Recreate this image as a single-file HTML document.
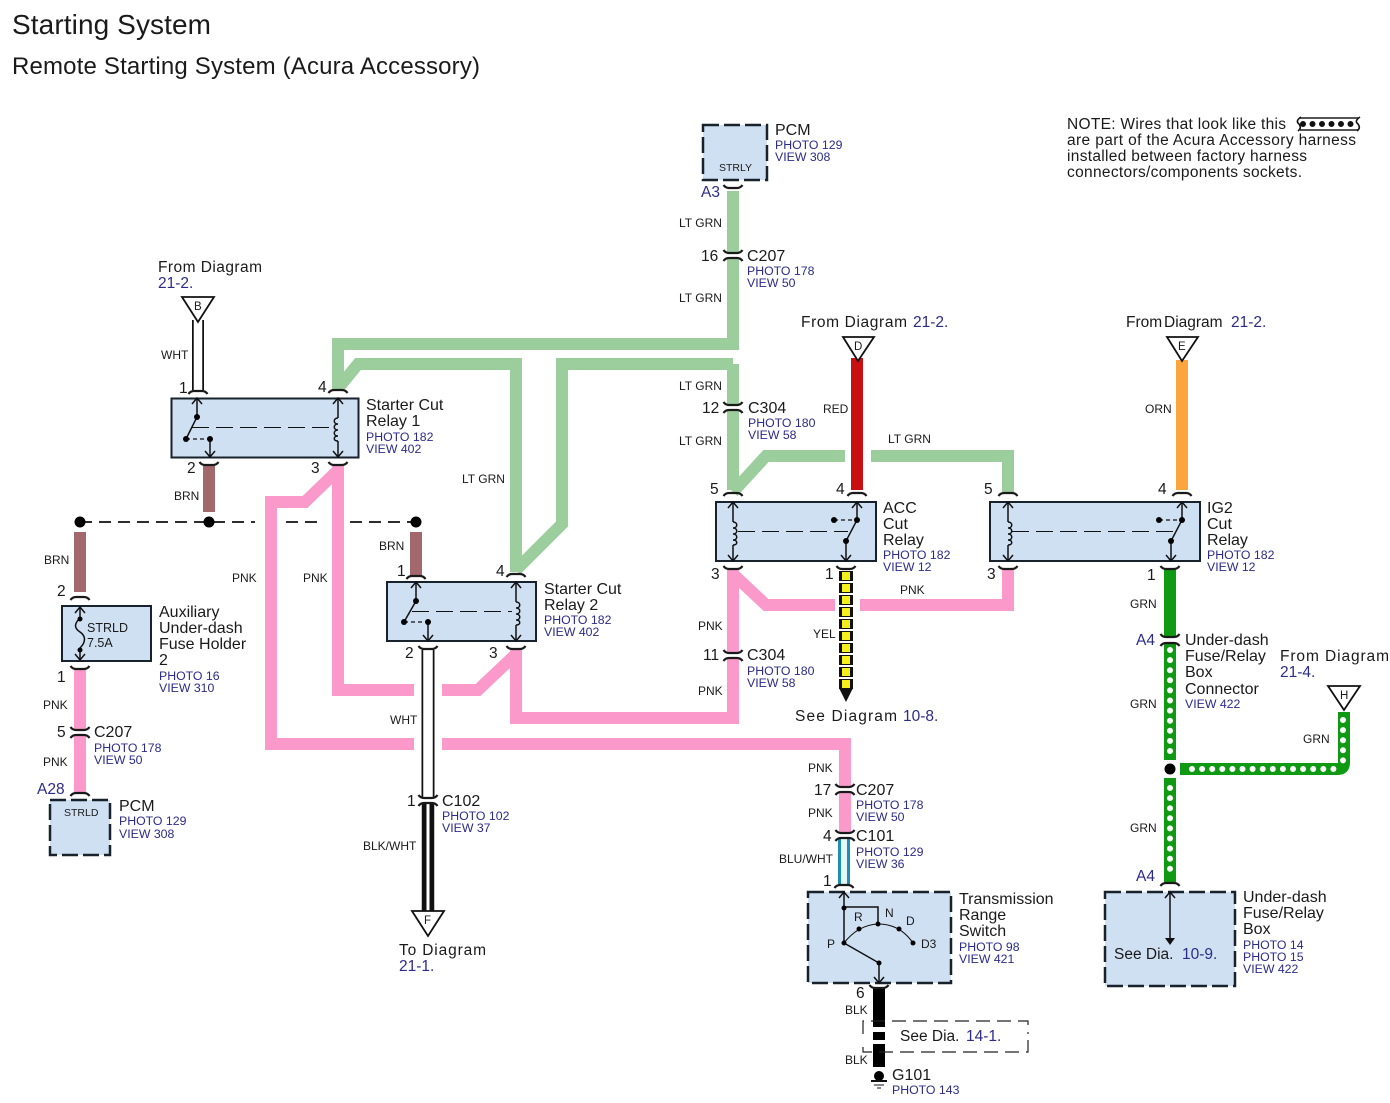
<!DOCTYPE html>
<html><head><meta charset="utf-8"><style>
html,body{margin:0;padding:0;background:#fff}
svg{display:block}
text{font-family:"Liberation Sans",sans-serif;fill:#1a1a1a}
.l{font-size:16px}.n{font-size:15.5px}
.b{font-size:12.3px;fill:#2b2b8c}
.a{font-size:15.5px;fill:#2b2b8c}
.w{font-size:12px}
.box{fill:#cfe0f2;stroke:#18222c;stroke-width:2}
.dash{fill:#cfe0f2;stroke:#18222c;stroke-width:2.5;stroke-dasharray:16 5}
.i{fill:none;stroke:#111;stroke-width:1.5}
.t{fill:none;stroke:#111;stroke-width:1.1;stroke-dasharray:17 7}
.sd{fill:none;stroke:#111;stroke-width:1.3;stroke-dasharray:4 3}
.wg{fill:none;stroke:#9ccd9c;stroke-width:12}
.wp{fill:none;stroke:#fb9aca;stroke-width:12}
.c{fill:none;stroke:#1a1a1a;stroke-width:2.2}
</style></head><body>
<svg width="1390" height="1103" viewBox="0 0 1390 1103" xmlns="http://www.w3.org/2000/svg">
<defs>
<path id="ct" class="c" d="M-9.500 3Q-7.500 0-4 0H4Q7.500 0 9.500 3"/>
<path id="cb" class="c" d="M-9.500-3Q-7.500 0-4 0H4Q7.500 0 9.500-3"/>
<path id="up" class="i" d="M-5 6L0 0L5 6"/>
<path id="dn" class="i" d="M-5-6L0 0L5-6"/>
<path id="coil" class="i" d="M0 20C5 20 5 26 0 26C5 26 5 32 0 32C5 32 5 38 0 38C5 38 5 43 0 43"/>
<path id="coilL" class="i" d="M0 20C-5 20-5 26 0 26C-5 26-5 32 0 32C-5 32-5 38 0 38C-5 38-5 43 0 43"/>
</defs>
<rect width="1390" height="1103" fill="#fff"/>

<text x="12" y="34" style="font-size:28px" textLength="199">Starting System</text>
<text x="12" y="74" style="font-size:24px" textLength="468">Remote Starting System (Acura Accessory)</text>

<!-- LT GRN wires -->
<path class="wg" d="M733 191V253M733 258V344H338V390"/>
<path class="wg" d="M340 386L358 364H516V572"/>
<path class="wg" d="M733 364H562V524L516 570"/>
<path class="wg" d="M733 364V405M733 410V490"/>
<path class="wg" d="M733 492L766 456H845M871 456H1008V492"/>
<!-- Red, orange -->
<path d="M857 358V490" stroke="#c80f12" stroke-width="12" fill="none"/>
<path d="M1182 360V490" stroke="#fba53f" stroke-width="12" fill="none"/>
<!-- Brown -->
<path d="M209 466V512M80 532V592M416 532V576" stroke="#a3686c" stroke-width="12" fill="none"/>
<!-- Pink -->
<path class="wp" d="M338 466V690H414M442 690H478L516 654"/>
<path class="wp" d="M516 650V718H733V658M733 653V570"/>
<path class="wp" d="M733 574L766 605H835M860 605H1008V570"/>
<path class="wp" d="M338 470L305 502H271V744H414M442 744H845V787M845 792V833"/>
<path class="wp" d="M80 670V730M80 735V792"/>
<!-- White wires -->
<path d="M198 320V390" stroke="#111" stroke-width="12" fill="none"/><path d="M198 318V392" stroke="#fff" stroke-width="8.5" fill="none"/>
<path d="M428 650V798" stroke="#111" stroke-width="13" fill="none"/><path d="M428 648V800" stroke="#fff" stroke-width="9.5" fill="none"/>
<path d="M428 803V912" stroke="#111" stroke-width="12.5" fill="none"/><path d="M428 803V912" stroke="#fff" stroke-width="3" fill="none"/>
<!-- Blue/white -->
<path d="M844 838V884" stroke="#1f8fb0" stroke-width="12" fill="none"/><path d="M844 838V884" stroke="#e6f8fa" stroke-width="6" fill="none"/>
<!-- Yellow -->
<path d="M846 571V691" stroke="#111" stroke-width="14" stroke-dasharray="10 2" fill="none"/>
<path d="M846 572V691" stroke="#f5ef1e" stroke-width="8" stroke-dasharray="8 4" fill="none"/>
<path d="M839 688H853L846 702Z" fill="#111"/>
<!-- Black -->
<path d="M879 988V1027M879 1032V1040M879 1044V1067" stroke="#000" stroke-width="12" fill="none"/>
<!-- Green wires -->
<path d="M1170 570V637M1170 643V760M1170 778V882M1180 769H1338Q1344 769 1344 763V712" stroke="#109a14" stroke-width="12" fill="none"/>
<path d="M1170 650V754M1170 788V870M1192 769H1335M1343 720V765" stroke="#fff" stroke-width="6" stroke-linecap="round" stroke-dasharray="0 10.1" fill="none"/>
<circle cx="1170" cy="769" r="5.500" fill="#000"/>

<!-- Bus -->
<path d="M80 522H255M286 522H322M350 522H416" stroke="#111" stroke-width="1.8" stroke-dasharray="12 7" fill="none"/>
<circle cx="80" cy="522" r="5.500" fill="#000"/><circle cx="209" cy="522" r="5.500" fill="#000"/><circle cx="416" cy="522" r="5.500" fill="#000"/>

<!-- Boxes -->
<rect class="box" x="171.500" y="398.500" width="187" height="59"/>
<rect class="box" x="387" y="582" width="149" height="59"/>
<rect class="box" x="716" y="502" width="160" height="59"/>
<rect class="box" x="990" y="502" width="210" height="59"/>
<rect class="box" x="62" y="606" width="89" height="55"/>
<rect class="dash" x="703" y="125" width="64" height="55"/>
<rect class="dash" x="50" y="800" width="60" height="55"/>
<rect class="dash" x="808" y="892" width="143" height="91"/>
<rect class="dash" x="1105" y="892" width="130" height="94"/>

<!-- Triangles -->
<g fill="#fff" stroke="#111" stroke-width="1.8">
<path d="M182 297H214L198 322Z"/><path d="M843 337H874L858 361Z"/><path d="M1167 337H1198L1182 361Z"/><path d="M1328 686H1360L1344 710Z"/><path d="M412 911H444L428 936Z"/>
</g>
<text x="194" y="310" style="font-size:11.5px">B</text><text x="854" y="350" style="font-size:11.5px">D</text><text x="1178" y="350" style="font-size:11.5px">E</text><text x="1340" y="699" style="font-size:11.5px">H</text><text x="424" y="924" style="font-size:11.5px">F</text>

<!-- Connector marks: component pins -->
<use href="#ct" x="198" y="391"/><use href="#ct" x="338" y="390"/>
<use href="#cb" x="209" y="465"/><use href="#cb" x="338" y="465"/>
<use href="#ct" x="416" y="576"/><use href="#ct" x="516" y="574"/>
<use href="#cb" x="428" y="649"/><use href="#cb" x="516" y="649"/>
<use href="#ct" x="733" y="493"/><use href="#ct" x="857" y="493"/><use href="#ct" x="1008" y="493"/><use href="#ct" x="1182" y="493"/>
<use href="#cb" x="733" y="569"/><use href="#cb" x="846" y="569"/><use href="#cb" x="1008" y="569"/><use href="#cb" x="1170" y="569"/>
<use href="#ct" x="80" y="597"/><use href="#cb" x="80" y="669"/>
<use href="#ct" x="80" y="793"/><use href="#cb" x="733" y="188"/>
<use href="#ct" x="844" y="885"/><use href="#cb" x="879" y="988"/>
<use href="#ct" x="1170" y="883"/>
<!-- Inline connectors: facing arcs -->
<use href="#cb" x="733" y="253"/><use href="#ct" x="733" y="258"/>
<use href="#cb" x="733" y="405"/><use href="#ct" x="733" y="410"/>
<use href="#cb" x="733" y="653"/><use href="#ct" x="733" y="658"/>
<use href="#cb" x="80" y="730"/><use href="#ct" x="80" y="735"/>
<use href="#cb" x="428" y="798"/><use href="#ct" x="428" y="803"/>
<use href="#cb" x="845" y="787"/><use href="#ct" x="845" y="792"/>
<use href="#cb" x="845" y="833"/><use href="#ct" x="845" y="838"/>
<use href="#cb" x="1170" y="637"/><use href="#ct" x="1170" y="643"/>

<!-- Relay 1 -->
<path class="i" d="M197 398V417L186 439"/><path class="sd" d="M186 439H210"/><path class="i" d="M210 439V457"/>
<path class="t" d="M192 427.500H334"/><path class="i" d="M338 398V418M338 441V457"/>
<use href="#coilL" x="338" y="398"/><use href="#up" x="197" y="398"/><use href="#dn" x="210" y="457"/><use href="#up" x="338" y="398"/><use href="#dn" x="338" y="457"/>
<circle cx="197" cy="417" r="3"/><circle cx="186" cy="439" r="3"/><circle cx="210" cy="439" r="3"/>
<!-- Relay 2 -->
<path class="i" d="M416 582V601L404 622"/><path class="sd" d="M404 622H428"/><path class="i" d="M428 622V641"/>
<path class="t" d="M412 611.500H512"/><path class="i" d="M516 582V602M516 625V641"/>
<use href="#coil" x="516" y="582"/><use href="#up" x="416" y="582"/><use href="#dn" x="428" y="641"/><use href="#up" x="516" y="582"/><use href="#dn" x="516" y="641"/>
<circle cx="416" cy="601" r="3"/><circle cx="404" cy="622" r="3"/><circle cx="428" cy="622" r="3"/>
<!-- ACC -->
<path class="i" d="M857 502V520L846 541V561"/><path class="sd" d="M834 520H857"/>
<path class="t" d="M738 531.500H848"/><path class="i" d="M733 502V522M733 545V561"/>
<use href="#coil" x="733" y="502"/><use href="#up" x="857" y="502"/><use href="#dn" x="846" y="561"/><use href="#up" x="733" y="502"/><use href="#dn" x="733" y="561"/>
<circle cx="857" cy="520" r="3"/><circle cx="834" cy="520" r="3"/><circle cx="846" cy="541" r="3"/>
<!-- IG2 -->
<path class="i" d="M1182 502V520L1171 541V561"/><path class="sd" d="M1159 520H1182"/>
<path class="t" d="M1012 531.500H1175"/><path class="i" d="M1008 502V522M1008 545V561"/>
<use href="#coil" x="1008" y="502"/><use href="#up" x="1182" y="502"/><use href="#dn" x="1171" y="561"/><use href="#up" x="1008" y="502"/><use href="#dn" x="1008" y="561"/>
<circle cx="1182" cy="520" r="3"/><circle cx="1159" cy="520" r="3"/><circle cx="1171" cy="541" r="3"/>
<!-- Fuse -->
<path class="i" d="M80 606V618C74 624 74 628 80 632C86 636 86 642 80 648V661"/>
<use href="#up" x="80" y="607"/><use href="#dn" x="80" y="660"/><circle cx="80" cy="619" r="2.500"/><circle cx="80" cy="650" r="2.500"/>
<text x="87" y="632" style="font-size:12.5px">STRLD</text><text x="87" y="647" style="font-size:12.5px">7.5A</text>
<!-- Trans switch -->
<path class="i" d="M844 892V943M844 907H878V924M844 943L879 963V983"/>
<path class="i" style="stroke-width:1.1" d="M844 943Q858 925 878 924Q900 924 913 943"/>
<use href="#up" x="844" y="892"/><use href="#dn" x="879" y="983"/>
<circle cx="844" cy="908" r="2.500"/><circle cx="844" cy="943" r="2.500"/><circle cx="859" cy="929" r="2.500"/><circle cx="878" cy="924" r="2.500"/><circle cx="899" cy="929" r="2.500"/><circle cx="913" cy="943" r="2.500"/><circle cx="879" cy="963" r="2.500"/>
<text x="854" y="921" class="w">R</text><text x="885" y="917" class="w">N</text><text x="906" y="925" class="w">D</text><text x="827" y="948" class="w">P</text><text x="921" y="948" class="w">D3</text>
<!-- Under-dash inner -->
<path class="i" d="M1170 892V940"/><use href="#up" x="1170" y="892"/><path d="M1165 938H1175L1170 945Z" fill="#111"/>
<!-- Ground -->
<circle cx="879" cy="1076" r="5" fill="#000"/><path d="M871 1081H887" stroke="#111" stroke-width="2"/><path d="M874 1085H884M877 1088H881" stroke="#111" stroke-width="1"/>
<!-- See Dia bracket -->
<path d="M863 1034V1021H1028V1034M1028 1040V1052H863V1040" fill="none" stroke="#222" stroke-width="1.2" stroke-dasharray="14 7"/>
<!-- Note wire sample -->
<path d="M1300 118H1358M1300 130H1358" stroke="#555" stroke-width="2"/><path d="M1303 124H1357" stroke="#111" stroke-width="6" stroke-linecap="round" stroke-dasharray="0 9.500"/>
<path d="M1301 117Q1295 121 1299 124Q1302 128 1298 131M1360 117Q1354 121 1358 124Q1361 128 1357 131" fill="none" stroke="#111" stroke-width="1.6"/>

<!-- Note -->
<text x="1067" y="129" class="n" textLength="219">NOTE: Wires that look like this</text>
<text x="1067" y="145" class="n" textLength="289">are part of the Acura Accessory harness</text>
<text x="1067" y="161" class="n" textLength="240">installed between factory harness</text>
<text x="1067" y="177" class="n" textLength="235">connectors/components sockets.</text>

<!-- Component labels -->
<text class="l" x="775" y="135">PCM</text><text class="b" x="775" y="149">PHOTO 129</text><text class="b" x="775" y="161">VIEW 308</text>
<text x="719" y="171" style="font-size:10.5px">STRLY</text>
<text class="a" x="701" y="197">A3</text>
<text class="w" x="679" y="227">LT GRN</text>
<text class="n" x="701" y="261">16</text><text class="l" x="747" y="261">C207</text><text class="b" x="747" y="275">PHOTO 178</text><text class="b" x="747" y="287">VIEW 50</text>
<text class="w" x="679" y="302">LT GRN</text>
<text class="w" x="679" y="390">LT GRN</text>
<text class="n" x="702" y="413">12</text><text class="l" x="748" y="413">C304</text><text class="b" x="748" y="427">PHOTO 180</text><text class="b" x="748" y="439">VIEW 58</text>
<text class="w" x="679" y="445">LT GRN</text>

<text class="n" x="158" y="272" textLength="104">From Diagram</text><text class="a" x="158" y="288">21-2.</text>
<text class="w" x="161" y="359">WHT</text>
<text class="n" x="179" y="393">1</text><text class="n" x="318" y="392">4</text>
<text class="n" x="187" y="473">2</text><text class="n" x="311" y="473">3</text>
<text class="w" x="174" y="500">BRN</text>
<text class="l" x="366" y="410">Starter Cut</text><text class="l" x="366" y="426">Relay 1</text><text class="b" x="366" y="441">PHOTO 182</text><text class="b" x="366" y="453">VIEW 402</text>
<text class="w" x="462" y="483">LT GRN</text>
<text class="w" x="232" y="582">PNK</text><text class="w" x="303" y="582">PNK</text>
<text class="w" x="379" y="550">BRN</text><text class="w" x="44" y="564">BRN</text>
<text class="n" x="397" y="576">1</text><text class="n" x="496" y="576">4</text>
<text class="l" x="544" y="594">Starter Cut</text><text class="l" x="544" y="610">Relay 2</text><text class="b" x="544" y="624">PHOTO 182</text><text class="b" x="544" y="636">VIEW 402</text>
<text class="n" x="405" y="658">2</text><text class="n" x="489" y="658">3</text>
<text class="w" x="390" y="724">WHT</text>
<text class="n" x="407" y="806">1</text><text class="l" x="442" y="806">C102</text><text class="b" x="442" y="820">PHOTO 102</text><text class="b" x="442" y="832">VIEW 37</text>
<text class="w" x="363" y="850">BLK/WHT</text>
<text class="n" x="399" y="955" textLength="87">To Diagram</text><text class="a" x="399" y="971">21-1.</text>

<text class="n" x="57" y="596">2</text>
<text class="l" x="159" y="617">Auxiliary</text><text class="l" x="159" y="633">Under-dash</text><text class="l" x="159" y="649">Fuse Holder</text><text class="l" x="159" y="665">2</text><text class="b" x="159" y="680">PHOTO 16</text><text class="b" x="159" y="692">VIEW 310</text>
<text class="n" x="57" y="682">1</text>
<text class="w" x="43" y="709">PNK</text>
<text class="n" x="57" y="737">5</text><text class="l" x="94" y="737">C207</text><text class="b" x="94" y="752">PHOTO 178</text><text class="b" x="94" y="764">VIEW 50</text>
<text class="w" x="43" y="766">PNK</text>
<text class="a" x="37" y="794">A28</text>
<text x="64" y="816" style="font-size:10.5px">STRLD</text>
<text class="l" x="119" y="811">PCM</text><text class="b" x="119" y="825">PHOTO 129</text><text class="b" x="119" y="838">VIEW 308</text>

<text class="n" x="801" y="327" textLength="106">From  Diagram</text><text class="a" x="913" y="327">21-2.</text>
<text class="w" x="823" y="413">RED</text>
<text class="w" x="888" y="443">LT GRN</text>
<text class="n" x="710" y="494">5</text><text class="n" x="836" y="494">4</text>
<text class="l" x="883" y="513">ACC</text><text class="l" x="883" y="529">Cut</text><text class="l" x="883" y="545">Relay</text><text class="b" x="883" y="559">PHOTO 182</text><text class="b" x="883" y="571">VIEW 12</text>
<text class="n" x="711" y="579">3</text><text class="n" x="825" y="579">1</text>
<text class="w" x="900" y="594">PNK</text><text class="w" x="813" y="638">YEL</text>
<text class="w" x="698" y="630">PNK</text>
<text class="n" x="703" y="660">11</text><text class="l" x="747" y="660">C304</text><text class="b" x="747" y="675">PHOTO 180</text><text class="b" x="747" y="687">VIEW 58</text>
<text class="w" x="698" y="695">PNK</text>
<text class="n" x="795" y="721" textLength="102">See  Diagram</text><text class="a" x="903" y="721">10-8.</text>
<text class="w" x="808" y="772">PNK</text>
<text class="n" x="814" y="795">17</text><text class="l" x="856" y="795">C207</text><text class="b" x="856" y="809">PHOTO 178</text><text class="b" x="856" y="821">VIEW 50</text>
<text class="w" x="808" y="817">PNK</text>
<text class="n" x="823" y="841">4</text><text class="l" x="856" y="841">C101</text><text class="b" x="856" y="856">PHOTO 129</text><text class="b" x="856" y="868">VIEW 36</text>
<text class="w" x="779" y="863">BLU/WHT</text>
<text class="n" x="823" y="886">1</text>
<text class="l" x="959" y="904">Transmission</text><text class="l" x="959" y="920">Range</text><text class="l" x="959" y="936">Switch</text><text class="b" x="959" y="951">PHOTO 98</text><text class="b" x="959" y="963">VIEW 421</text>
<text class="n" x="856" y="998">6</text>
<text class="w" x="845" y="1014">BLK</text><text class="w" x="845" y="1064">BLK</text>
<text class="n" x="900" y="1041">See Dia.</text><text class="a" x="966" y="1041">14-1.</text>
<text class="l" x="892" y="1080">G101</text><text class="b" x="892" y="1094">PHOTO 143</text>

<text class="n" x="1126" y="327">From</text><text class="n" x="1164" y="327">Diagram</text><text class="a" x="1231" y="327">21-2.</text>
<text class="w" x="1145" y="413">ORN</text>
<text class="n" x="984" y="494">5</text><text class="n" x="1158" y="494">4</text>
<text class="l" x="1207" y="513">IG2</text><text class="l" x="1207" y="529">Cut</text><text class="l" x="1207" y="545">Relay</text><text class="b" x="1207" y="559">PHOTO 182</text><text class="b" x="1207" y="571">VIEW 12</text>
<text class="n" x="987" y="579">3</text><text class="n" x="1147" y="580">1</text>
<text class="w" x="1130" y="608">GRN</text>
<text class="a" x="1136" y="645">A4</text>
<text class="l" x="1185" y="645">Under-dash</text><text class="l" x="1185" y="661">Fuse/Relay</text><text class="l" x="1185" y="677">Box</text><text class="l" x="1185" y="694">Connector</text><text class="b" x="1185" y="708">VIEW 422</text>
<text class="n" x="1280" y="661" textLength="109">From  Diagram</text><text class="a" x="1280" y="677">21-4.</text>
<text class="w" x="1130" y="708">GRN</text>
<text class="w" x="1303" y="743">GRN</text>
<text class="w" x="1130" y="832">GRN</text>
<text class="a" x="1136" y="881">A4</text>
<text class="l" x="1243" y="902">Under-dash</text><text class="l" x="1243" y="918">Fuse/Relay</text><text class="l" x="1243" y="934">Box</text><text class="b" x="1243" y="949">PHOTO 14</text><text class="b" x="1243" y="961">PHOTO 15</text><text class="b" x="1243" y="973">VIEW 422</text>
<text class="n" x="1114" y="959">See  Dia.</text><text class="a" x="1182" y="959">10-9.</text>
</svg>
</body></html>
